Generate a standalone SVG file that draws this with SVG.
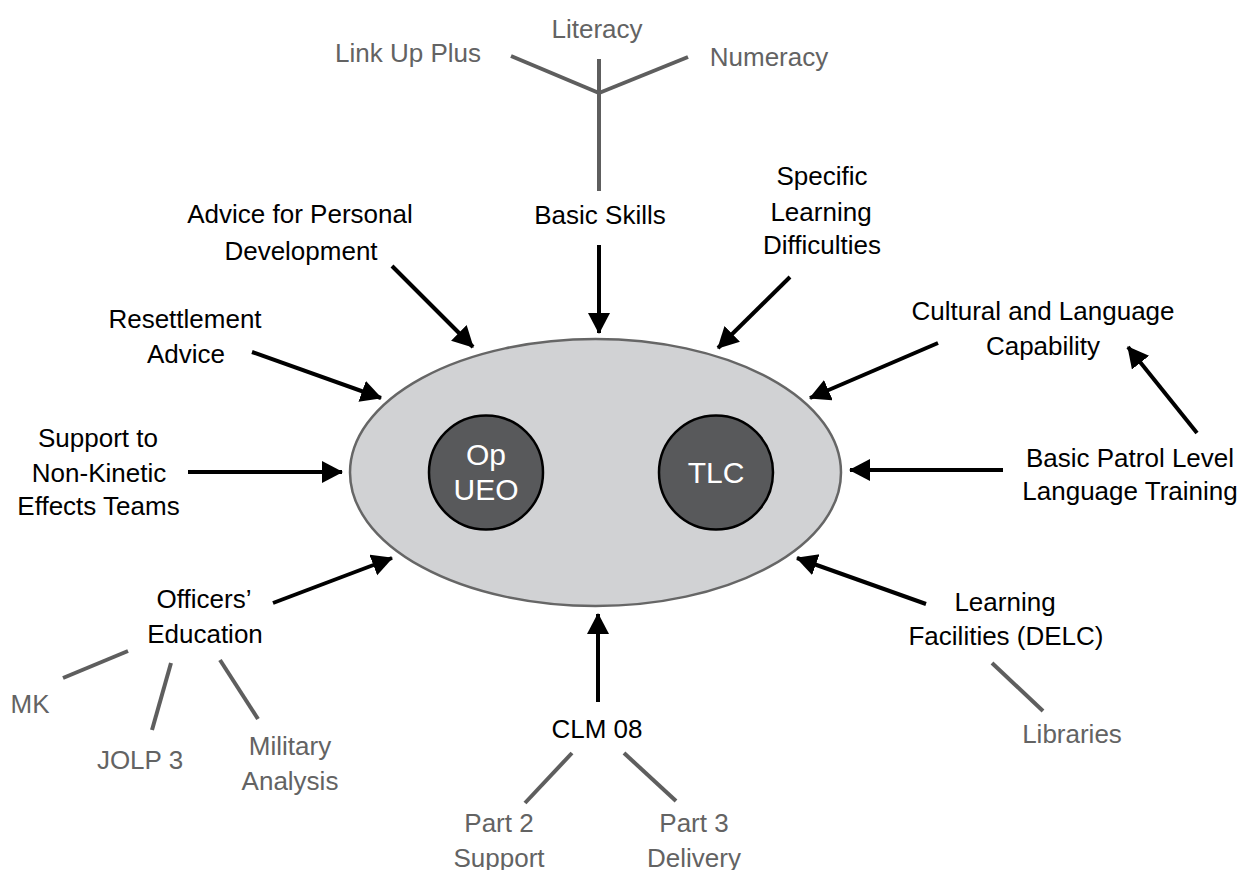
<svg xmlns="http://www.w3.org/2000/svg" width="1242" height="870" viewBox="0 0 1242 870">
<defs>
<style>
text{font-family:"Liberation Sans",Arial,sans-serif;font-size:26px;text-anchor:middle}
.k{fill:#000}
.g{fill:#636363}
.w{fill:#fff;font-size:30px}
.a{stroke:#000;stroke-width:4;fill:none;marker-end:url(#ah)}
.s{stroke:#5e5e5e;stroke-width:4;fill:none}
</style>
<marker id="ah" markerUnits="userSpaceOnUse" markerWidth="22" markerHeight="24" refX="20" refY="11" orient="auto" viewBox="0 0 22 24">
<path d="M0,0 L21,11 L0,22 Z" fill="#000"/>
</marker>
</defs>
<rect width="1242" height="870" fill="#fff"/>

<g id="hub">
<ellipse cx="595.5" cy="472.5" rx="245.5" ry="133.5" fill="#d1d2d4" stroke="#666" stroke-width="2.5"/>
</g>
<g id="op-ueo">
<circle cx="486" cy="472.5" r="57" fill="#58595b" stroke="#000" stroke-width="2.5"/>
<text class="w" x="486" y="465">Op</text>
<text class="w" x="486" y="500">UEO</text>
</g>
<g id="tlc">
<circle cx="716" cy="472.5" r="57" fill="#58595b" stroke="#000" stroke-width="2.5"/>
<text class="w" x="716" y="483">TLC</text>
</g>

<g id="connectors">
<line class="a" x1="599" y1="245" x2="599" y2="333"/>
<line class="a" x1="392" y1="266" x2="473" y2="347"/>
<line class="a" x1="790" y1="277" x2="718" y2="348"/>
<line class="a" x1="252" y1="352" x2="381" y2="398"/>
<line class="a" x1="188" y1="472" x2="342" y2="472"/>
<line class="a" x1="273" y1="603" x2="392" y2="558"/>
<line class="a" x1="598" y1="702" x2="598" y2="614"/>
<line class="a" x1="926" y1="604" x2="797" y2="558"/>
<line class="a" x1="1003" y1="470" x2="850" y2="470"/>
<line class="a" x1="938" y1="343" x2="810" y2="398"/>
<line class="a" x1="1197" y1="433" x2="1128" y2="347"/>
<line class="s" x1="599" y1="59" x2="599" y2="191"/>
<line class="s" x1="511" y1="56" x2="599" y2="93"/>
<line class="s" x1="688" y1="57" x2="599" y2="93"/>
<line class="s" x1="128" y1="651" x2="63" y2="678"/>
<line class="s" x1="171" y1="663" x2="152" y2="730"/>
<line class="s" x1="220" y1="660" x2="258" y2="719"/>
<line class="s" x1="572" y1="753" x2="525" y2="803"/>
<line class="s" x1="624" y1="753" x2="676" y2="801"/>
<line class="s" x1="992" y1="663" x2="1043" y2="711"/>
</g>

<g id="basic-skills"><text class="k" x="600" y="224">Basic Skills</text></g>
<g id="literacy"><text class="g" x="597" y="38">Literacy</text></g>
<g id="link-up-plus"><text class="g" x="408" y="62">Link Up Plus</text></g>
<g id="numeracy"><text class="g" x="769" y="66">Numeracy</text></g>
<g id="advice-personal"><text class="k" x="300" y="223">Advice for Personal</text><text class="k" x="301" y="260">Development</text></g>
<g id="specific-learning"><text class="k" x="822" y="185">Specific</text><text class="k" x="821" y="221">Learning</text><text class="k" x="822" y="254">Difficulties</text></g>
<g id="resettlement"><text class="k" x="185" y="328">Resettlement</text><text class="k" x="186" y="363">Advice</text></g>
<g id="support-nk"><text class="k" x="98" y="447">Support to</text><text class="k" x="99" y="482">Non-Kinetic</text><text class="k" x="98.5" y="515">Effects Teams</text></g>
<g id="cultural"><text class="k" x="1043" y="320">Cultural and Language</text><text class="k" x="1043" y="355">Capability</text></g>
<g id="basic-patrol"><text class="k" x="1130" y="467">Basic Patrol Level</text><text class="k" x="1130" y="500">Language Training</text></g>
<g id="officers"><text class="k" x="204" y="608">Officers’</text><text class="k" x="205" y="643">Education</text></g>
<g id="mk"><text class="g" x="30" y="713">MK</text></g>
<g id="jolp3"><text class="g" x="140" y="769">JOLP 3</text></g>
<g id="military"><text class="g" x="290" y="755">Military</text><text class="g" x="290" y="790">Analysis</text></g>
<g id="clm08"><text class="k" x="597" y="738">CLM 08</text></g>
<g id="part2"><text class="g" x="499" y="832">Part 2</text><text class="g" x="499" y="867">Support</text></g>
<g id="part3"><text class="g" x="694" y="832">Part 3</text><text class="g" x="694" y="867">Delivery</text></g>
<g id="learning-facilities"><text class="k" x="1005" y="611">Learning</text><text class="k" x="1006" y="645">Facilities (DELC)</text></g>
<g id="libraries"><text class="g" x="1072" y="743">Libraries</text></g>
</svg>
